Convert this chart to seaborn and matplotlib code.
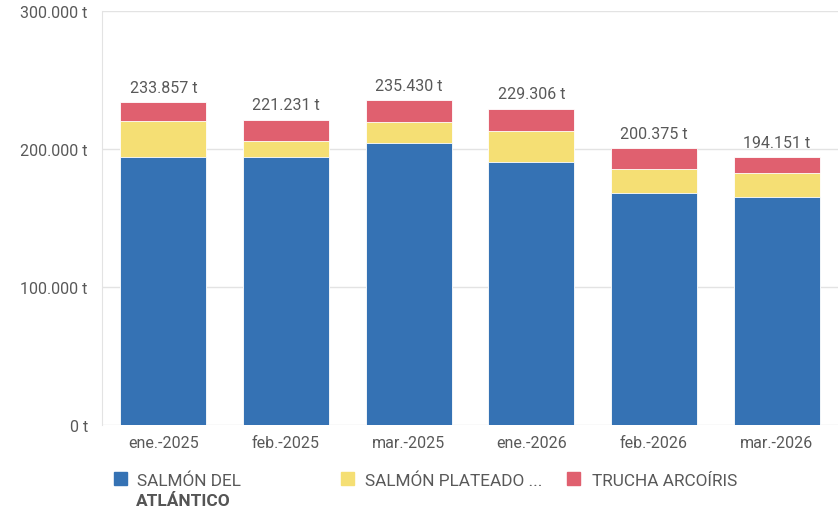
import numpy as np
import pandas as pd
import matplotlib
matplotlib.use("Agg")
import matplotlib.pyplot as plt
import seaborn as sns
from matplotlib.patches import Rectangle

# Data (toneladas)
months = ["ene.-2025", "feb.-2025", "mar.-2025", "ene.-2026", "feb.-2026", "mar.-2026"]
atlantico = [194400, 194400, 204300, 190800, 168100, 165400]
plateado = [26100, 11200, 15300, 22000, 17200, 17000]
trucha = [13357, 15631, 15830, 16506, 15075, 11751]
totals = [233857, 221231, 235430, 229306, 200375, 194151]

series_names = ["SALMÓN DEL", "SALMÓN PLATEADO ...", "TRUCHA ARCOÍRIS"]
colors = ["#3572b4", "#f5df74", "#e0606f"]

df = pd.DataFrame({"mes": months, "atl": atlantico, "pla": plateado, "tru": trucha})
df["c1"] = df["atl"]
df["c2"] = df["atl"] + df["pla"]
df["c3"] = df["c2"] + df["tru"]

sns.set_style("white")
plt.rcParams["font.family"] = ["Roboto", "DejaVu Sans"]
txt_col = "#595959"

fig = plt.figure(figsize=(8.38, 5.10), dpi=100)
ax = fig.add_axes([102 / 838, 84 / 510, 736 / 838, 414 / 510])

# stacked bars: draw cumulative totals from the top layer down
for col, c in zip(["c3", "c2", "c1"], colors[::-1]):
    sns.barplot(data=df, x="mes", y=col, color=c, width=0.7, ax=ax,
                edgecolor="#ffffff", linewidth=0.6, saturation=1)

ax.set_ylim(0, 300000)
ax.set_xlim(-0.5, 5.5)
ax.set_yticks([0, 100000, 200000, 300000])
ax.set_yticklabels(["0 t", "100.000 t", "200.000 t", "300.000 t"])
ax.set_xlabel("")
ax.set_ylabel("")
ax.yaxis.grid(True, color="#e3e3e3", linewidth=1)
ax.set_axisbelow(True)
for s in ["top", "right", "bottom"]:
    ax.spines[s].set_visible(False)
ax.spines["left"].set_color("#e3e3e3")
ax.tick_params(axis="y", length=7.2, color="#e3e3e3", pad=3,
               labelsize=11.5, labelcolor=txt_col)
ax.tick_params(axis="x", length=0, pad=7, labelsize=11.5, labelcolor=txt_col)

# total labels above bars
for i, t in enumerate(totals):
    ax.text(i, t + 7600, f"{t:,}".replace(",", ".") + " t", ha="center", va="baseline",
            fontsize=11.5, color=txt_col)

# legend drawn by hand to allow the two-line first entry
sq_x = [114, 341, 567]
tx_x = [137, 365, 592]
for x, tx, c, name in zip(sq_x, tx_x, colors, series_names):
    fig.patches.append(Rectangle((x / 838, 1 - 486 / 510), 13 / 838, 13 / 510,
                                 transform=fig.transFigure, color=c))
    fig.text(tx / 838, 1 - 486 / 510, name, fontsize=12.4, color=txt_col,
             va="baseline")
fig.text(136 / 838, 1 - 506 / 510, "ATLÁNTICO", fontsize=12.4, color="#555555",
         weight="bold", va="baseline")

fig.savefig("out.png", dpi=100)
